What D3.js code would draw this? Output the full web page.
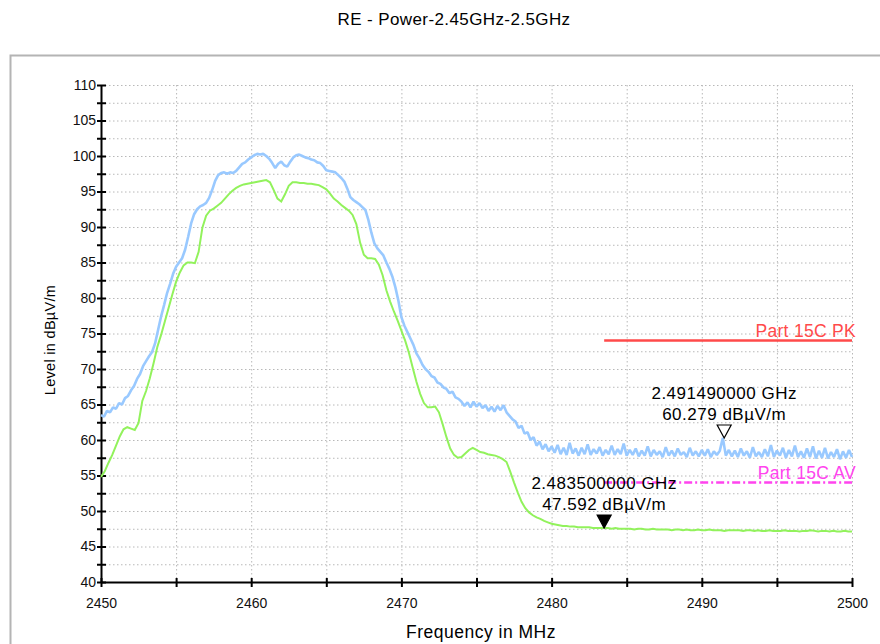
<!DOCTYPE html>
<html>
<head>
<meta charset="utf-8">
<script src="https://cdn.jsdelivr.net/npm/d3@7"></script>
<style>
  body { margin: 0; background: #fff; }
  text { font-family: "Liberation Sans", Arial, sans-serif; }
</style>
</head>
<body>
<div id="chart"></div>
<script>
const width = 880;
const height = 644;

// sweep: 2450 - 2500 MHz
const peakStart = 2450, peakStep = 0.2;
const peakValues = [
  63.5, 63.3, 64.1, 63.9, 64.6, 64.4, 65.2, 65.0, 65.9, 66.2,
  67.0, 67.6, 68.6, 69.3, 70.4, 71.1, 71.8, 72.4, 73.6, 75.5,
  77.4, 79.0, 80.7, 82.0, 83.4, 84.4, 85.0, 85.6, 86.8, 88.6,
  90.5, 91.8, 92.5, 92.9, 93.1, 93.4, 94.1, 95.2, 96.5, 97.3,
  97.6, 97.7, 97.5, 97.7, 97.6, 97.9, 98.4, 98.9, 99.1, 99.5,
  99.8, 100.1, 100.3, 100.2, 100.3, 100.0, 99.6, 99.0, 98.3, 98.9,
  99.2, 98.7, 98.5, 99.2, 99.8, 100.1, 100.2, 100.0, 99.8, 99.7,
  99.5, 99.4, 99.1, 99.0, 98.6, 98.0, 97.9, 97.8, 97.7, 97.3,
  96.9, 96.4, 95.4, 94.2, 93.8, 93.5, 93.2, 92.8, 92.4, 91.0,
  89.2, 87.7, 87.0, 86.5, 86.0, 85.0, 84.1, 83.0, 81.5, 79.6,
  77.3, 76.1, 75.2, 74.3, 73.4, 72.2, 71.5, 70.6, 70.0, 69.6,
  69.0, 68.8, 68.1, 67.9, 67.4, 67.2, 66.6, 66.8, 66.0, 65.8,
  65.4, 64.8, 65.3, 64.6, 65.4, 64.7, 65.2, 64.5, 64.9, 64.1,
  64.7, 64.0, 64.8, 64.2, 64.9, 63.9, 63.4, 62.9, 62.6, 61.7,
  62.0, 60.9, 61.1, 60.0, 60.4, 59.2, 59.8, 58.7, 59.4, 58.4,
  59.1, 58.2, 59.3, 58.0, 58.9, 57.9, 59.6, 58.1, 58.8, 57.8,
  58.9, 58.0, 59.4, 57.9, 58.7, 58.1, 59.0, 57.8, 58.6, 58.0,
  59.2, 57.9, 58.7, 58.0, 59.5, 57.8, 58.6, 57.9, 58.8, 57.7,
  58.5, 57.8, 59.1, 57.7, 58.6, 57.9, 58.4, 57.6, 59.0, 57.8,
  58.5, 57.7, 58.8, 57.9, 58.3, 57.6, 58.9, 57.8, 58.4, 57.7,
  58.6, 57.8, 58.7, 57.6, 58.4, 57.9, 58.5, 60.3, 57.8, 58.6,
  57.7, 58.5, 57.6, 58.8, 57.8, 58.4, 57.5, 59.0, 57.7, 58.3,
  57.6, 58.7, 57.7, 59.3, 57.6, 58.5, 57.8, 58.9, 57.5, 58.6,
  57.7, 59.2, 57.6, 58.4, 57.5, 58.8, 57.6, 59.1, 57.4, 58.5,
  57.5, 58.9, 57.4, 58.3, 57.6, 58.7, 57.3, 58.4, 57.5, 58.6,
  57.6
];

const avgStart = 2450, avgStep = 0.25;
const avgValues = [
  54.8, 55.6, 56.8, 57.9, 59.2, 60.5, 61.5, 61.8, 61.6, 61.4,
  62.4, 65.5, 66.9, 68.7, 70.8, 73.1, 74.8, 76.7, 78.6, 80.5,
  82.3, 83.6, 84.6, 85.0, 85.0, 84.9, 86.5, 89.9, 91.6, 92.3,
  92.6, 93.0, 93.4, 94.0, 94.6, 95.1, 95.5, 95.8, 96.0, 96.1,
  96.2, 96.3, 96.4, 96.5, 96.6, 96.3, 95.2, 94.0, 93.6, 94.6,
  95.8, 96.3, 96.3, 96.2, 96.2, 96.1, 96.1, 96.0, 95.9, 95.6,
  95.3, 94.7, 94.0, 93.6, 93.1, 92.7, 92.3, 91.7, 90.4, 87.8,
  86.1, 85.6, 85.6, 85.5, 84.7, 83.2, 81.1, 79.5, 78.1, 76.8,
  75.4, 74.0, 72.3, 70.2, 68.2, 66.5, 65.2, 64.6, 64.6, 64.7,
  63.9, 62.2, 60.4, 58.8, 57.9, 57.5, 57.6, 58.1, 58.6, 58.9,
  58.6, 58.3, 58.2, 58.0, 57.9, 57.8, 57.6, 57.3, 56.9, 55.5,
  54.0, 52.6, 51.3, 50.4, 49.8, 49.4, 49.1, 48.9, 48.6, 48.4,
  48.2, 48.1, 48.0, 47.9, 47.9, 47.8, 47.8, 47.7, 47.7, 47.7,
  47.7, 47.6, 47.6, 47.6, 47.6, 47.6, 47.5, 47.6, 47.5, 47.5,
  47.5, 47.5, 47.4, 47.5, 47.5, 47.4, 47.4, 47.5, 47.4, 47.4,
  47.4, 47.4, 47.3, 47.4, 47.4, 47.3, 47.4, 47.3, 47.3, 47.4,
  47.3, 47.3, 47.4, 47.3, 47.3, 47.3, 47.2, 47.3, 47.3, 47.3,
  47.3, 47.2, 47.3, 47.3, 47.2, 47.3, 47.2, 47.2, 47.3, 47.2,
  47.2, 47.2, 47.3, 47.2, 47.2, 47.2, 47.1, 47.2, 47.2, 47.3,
  47.2, 47.1, 47.2, 47.2, 47.1, 47.2, 47.1, 47.1, 47.2, 47.1,
  47.1
];

const xTicks = [2450, 2460, 2470, 2480, 2490, 2500];
const yTicks = [40, 45, 50, 55, 60, 65, 70, 75, 80, 85, 90, 95, 100, 105, 110];

const limits = [
  { name: "Part 15C PK", from: 2483.5, to: 2500, level: 74 },
  { name: "Part 15C AV", from: 2483.5, to: 2500, level: 54 }
];

const markers = [
  { freq: 2491.49, level: 60.279, fLabel: "2.491490000 GHz", lLabel: "60.279 dBµV/m", filled: false },
  { freq: 2483.5, level: 47.592, fLabel: "2.483500000 GHz", lLabel: "47.592 dBµV/m", filled: true }
];

const svg = d3.select("#chart")
  .append("svg")
  .attr("width", width)
  .attr("height", height);

const x = d3.scaleLinear().domain([2450, 2500]).range([101, 852]);
const y = d3.scaleLinear().domain([40, 110]).range([582, 85]);

// frame
svg.append("path")
  .attr("d", "M10.5," + height + "V55.5H" + width)
  .attr("fill", "none")
  .attr("stroke", "#b4b4b4")
  .attr("stroke-width", 2);

svg.append("text")
  .attr("x", 454).attr("y", 25)
  .attr("text-anchor", "middle")
  .attr("font-size", 17)
  .attr("letter-spacing", 0.4)
  .text("RE - Power-2.45GHz-2.5GHz");

// grid
const grid = svg.append("g")
  .attr("stroke", "#b8b8b8")
  .attr("stroke-width", 1)
  .attr("stroke-dasharray", "1.5,2.5");

grid.selectAll("line.h")
  .data(d3.range(40, 110.1, 2.5))
  .join("line")
  .attr("x1", x(2450)).attr("x2", x(2500))
  .attr("y1", d => y(d) + 0.5).attr("y2", d => y(d) + 0.5);

grid.selectAll("line.v")
  .data(d3.range(2455, 2500.1, 5))
  .join("line")
  .attr("class", "v")
  .attr("x1", d => x(d) + 0.5).attr("x2", d => x(d) + 0.5)
  .attr("y1", y(110)).attr("y2", y(40));

// axes
const yAxis = d3.axisLeft(y)
  .tickValues(d3.range(40, 110.1, 2.5))
  .tickSizeInner(-5)
  .tickSizeOuter(0)
  .tickFormat(d => yTicks.includes(d) ? d : "");

const gy = svg.append("g")
  .attr("transform", `translate(${x(2450)},0)`)
  .call(yAxis);

gy.selectAll(".tick line")
  .attr("x1", -4).attr("x2", 5)
  .attr("stroke", "#000").attr("stroke-width", 2);
gy.selectAll(".tick text")
  .attr("x", -5)
  .attr("font-size", 14)
  .attr("font-family", "Liberation Sans, Arial, sans-serif")
  .attr("fill", "#111");
gy.select(".domain").attr("stroke", "#000").attr("stroke-width", 2);

const xAxis = d3.axisBottom(x)
  .tickValues(d3.range(2450, 2500.1, 5))
  .tickSizeOuter(0)
  .tickFormat(d => xTicks.includes(d) ? d : "");

const gx = svg.append("g")
  .attr("transform", `translate(0,${y(40)})`)
  .call(xAxis);

gx.selectAll(".tick line")
  .attr("y1", -4).attr("y2", 5)
  .attr("stroke", "#000").attr("stroke-width", 2);
gx.selectAll(".tick text")
  .attr("y", 16)
  .attr("font-size", 14)
  .attr("font-family", "Liberation Sans, Arial, sans-serif")
  .attr("fill", "#111");
gx.select(".domain").attr("stroke", "#000").attr("stroke-width", 2);

svg.append("text")
  .attr("transform", "translate(55,340) rotate(-90)")
  .attr("text-anchor", "middle")
  .attr("font-size", 14.5)
  .attr("letter-spacing", 0.3)
  .text("Level in dBµV/m");

svg.append("text")
  .attr("x", 481).attr("y", 638)
  .attr("text-anchor", "middle")
  .attr("font-size", 17.5)
  .attr("letter-spacing", 0.5)
  .text("Frequency in MHz");

// traces
const line = d3.line()
  .x(d => x(d[0]))
  .y(d => y(d[1]));

const peakData = peakValues.map((v, i) => [peakStart + i * peakStep, v]);
const avgData = avgValues.map((v, i) => [avgStart + i * avgStep, v]);

svg.append("path")
  .datum(peakData)
  .attr("d", line)
  .attr("fill", "none")
  .attr("stroke", "#99c9ff")
  .attr("stroke-width", 2.6)
  .attr("stroke-linejoin", "bevel");

svg.append("path")
  .datum(avgData)
  .attr("d", line)
  .attr("fill", "none")
  .attr("stroke", "#92f25c")
  .attr("stroke-width", 2);

// limit lines
const limitColors = ["#ff4a4a", "#ff44ee"];
limits.forEach((l, i) => {
  svg.append("line")
    .attr("x1", x(l.from)).attr("x2", x(l.to))
    .attr("y1", y(l.level)).attr("y2", y(l.level))
    .attr("stroke", limitColors[i])
    .attr("stroke-width", 2.5)
    .attr("stroke-dasharray", i === 1 ? "8,3,2,3" : null);
  svg.append("text")
    .attr("x", x(l.to) + 4).attr("y", y(l.level) - 4)
    .attr("text-anchor", "end")
    .attr("font-size", 17.5)
    .attr("letter-spacing", 0.3)
    .attr("fill", limitColors[i])
    .text(l.name);
});

// markers
markers.forEach(m => {
  const mx = x(m.freq), my = y(m.level);
  svg.append("path")
    .attr("d", `M${mx},${my}L${mx - 7},${my - 13}L${mx + 7},${my - 13}Z`)
    .attr("fill", m.filled ? "#000" : "#fff")
    .attr("stroke", "#000")
    .attr("stroke-width", 1.2);
  svg.append("text")
    .attr("x", mx).attr("y", my - 39)
    .attr("text-anchor", "middle")
    .attr("font-size", 17)
    .attr("letter-spacing", 0.5)
    .text(m.fLabel);
  svg.append("text")
    .attr("x", mx).attr("y", my - 18)
    .attr("text-anchor", "middle")
    .attr("font-size", 17)
    .attr("letter-spacing", 0.5)
    .text(m.lLabel);
});
</script>
</body>
</html>
